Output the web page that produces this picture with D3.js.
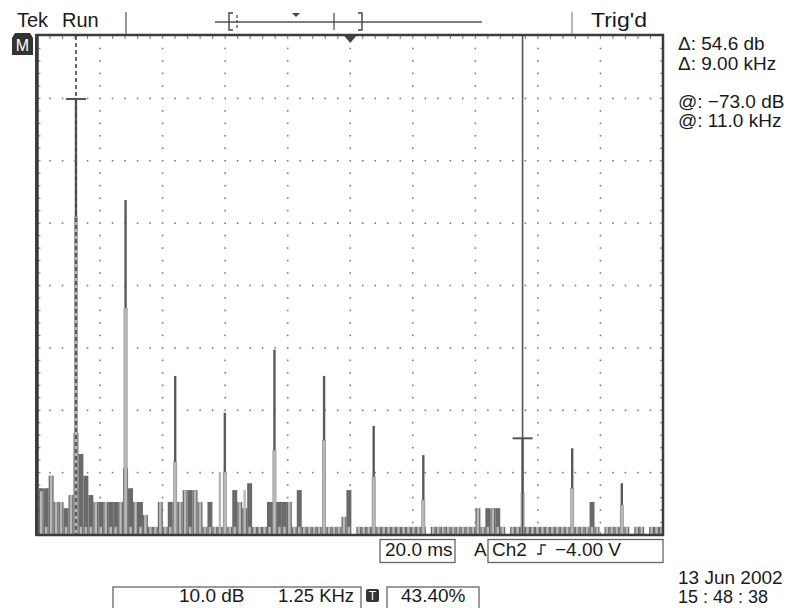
<!DOCTYPE html>
<html><head><meta charset="utf-8">
<script src="https://cdn.jsdelivr.net/npm/d3@7"></script>
<style>
html,body{margin:0;padding:0;background:#fff;}
svg{display:block;}
text{font-family:"Liberation Sans",Arial,Helvetica,sans-serif;fill:#1a1a1a;}
</style></head>
<body>
<script>
// ---------- DATA ----------
const freqDomain = [1.225, 13.83];
const levelDomain = [-88.5, -8.5];
const binStart = 1.3, binStep = 0.1;
const noiseMax = [
 -81.0,-81.0,-79.0,-83.2,-83.2,-84.2,-82.1,-72.1,-75.5,-79.0,
 -82.1,-83.2,-83.2,-83.2,-83.2,-83.2,-83.2,-77.8,-81.0,-83.2,
 -83.2,-85.3,-87.2,-87.2,-83.2,-87.2,-83.2,-83.2,-83.2,-81.3,
 -81.3,-81.3,-83.2,-87.2,-83.2,-87.2,-87.2,-87.2,-87.2,-81.3,
 -83.2,-84.2,-80.2,-87.2,-87.2,-87.2,-83.2,-83.2,-83.2,-83.2,
 -83.2,-87.2,-81.3,-87.2,-87.2,-87.2,-87.2,-87.2,-87.2,-87.2,
 -87.2,-85.6,-81.3,-90.0,-87.2,-87.2,-87.2,-87.2,-87.2,-87.2,
 -87.2,-87.2,-87.2,-87.2,-87.2,-87.2,-87.2,-87.2,-90.0,-87.2,
 -87.2,-87.2,-87.2,-87.2,-87.2,-87.2,-87.2,-87.2,-84.2,-87.2,
 -84.2,-84.2,-84.2,-87.2,-90.0,-87.2,-87.2,-87.2,-87.2,-87.2,
 -87.2,-87.2,-87.2,-87.2,-87.2,-87.2,-87.2,-87.2,-87.2,-87.2,
 -87.2,-83.2,-87.2,-90.0,-87.2,-87.2,-87.2,-87.2,-87.2,-90.0,
 -87.2,-87.2,-90.0,-87.2,-87.2,-87.2
];
const noiseAvg = [
 -81.5,-87.2,-79.0,-83.2,-83.2,-87.2,-82.1,-87.2,-87.2,-87.2,
 -87.2,-83.2,-87.2,-83.2,-87.2,-87.2,-83.2,-87.2,-87.2,-83.2,
 -87.2,-85.3,-87.2,-87.2,-83.2,-87.2,-87.2,-87.2,-83.2,-81.3,
 -87.2,-81.3,-83.2,-87.2,-87.2,-87.2,-78.4,-87.2,-87.2,-87.2,
 -83.2,-81.3,-87.2,-87.2,-87.2,-87.2,-87.2,-83.2,-87.2,-87.2,
 -83.2,-87.2,-87.2,-87.2,-87.2,-87.2,-87.2,-87.2,-87.2,-87.2,
 -87.2,-85.6,-87.2,-90.0,-87.2,-87.2,-87.2,-87.2,-87.2,-87.2,
 -87.2,-87.2,-87.2,-87.2,-87.2,-87.2,-87.2,-87.2,-90.0,-87.2,
 -87.2,-87.2,-87.2,-87.2,-87.2,-87.2,-87.2,-87.2,-84.2,-87.2,
 -87.2,-84.2,-87.2,-87.2,-90.0,-87.2,-87.2,-87.2,-87.2,-87.2,
 -87.2,-87.2,-87.2,-87.2,-87.2,-87.2,-87.2,-87.2,-87.2,-87.2,
 -87.2,-87.2,-87.2,-90.0,-87.2,-87.2,-87.2,-87.2,-87.2,-90.0,
 -87.2,-87.2,-90.0,-87.2,-87.2,-87.2
];
const peakFreq  = [2, 3, 4, 5, 6, 7, 8, 9, 11, 12, 13];
const peakMax   = [-18.6,-34.8,-63.0,-68.9,-58.8,-63.0,-71.0,-75.7,-73.0,-74.6,-80.2];
const peakAvg   = [-37.5,-52.1,-76.8,-78.4,-74.9,-73.3,-79.2,-82.9,-81.8,-81.0,-83.7];
const cursorFreq  = [2.0, 11.0];
const cursorLevel = [-18.6, -73.0];
const headerWords = ["Tek", "Run"], headerRight = "Trig'd";
const readouts = ["\u0394: 54.6 db", "\u0394: 9.00 kHz", "@: \u221273.0 dB", "@: 11.0 kHz"];
const timebase = "20.0 ms", trigSource = "Ch2", trigLevel = "\u22124.00 V";
const scaleDb = "10.0 dB", scaleHz = "1.25 KHz", trigPos = "43.40%";
const dateStr = "13 Jun 2002", timeStr = "15 : 48 : 38";

// ---------- LAYOUT ----------
const W = 787, H = 608;
const L = 37.5, R = 663, T = 36, B = 535;
const svg = d3.select("body").append("svg").attr("width", W).attr("height", H);
const x = d3.scaleLinear().domain(freqDomain).range([L, R]);
const y = d3.scaleLinear().domain(levelDomain).range([B, T]);
const divX = d3.scaleLinear().domain([0, 10]).range([L, R]);
const divY = d3.scaleLinear().domain([0, 8]).range([T, B]);

const DARK = "#6a6a6a", LIGHT = "#b9b9b9", FRAME = "#3c3c3c", DOT = "#7c7c7c";

const g = svg.append("g");
const dots = [];
for (let j = 1; j < 8; j++) for (let m = 1; m < 50; m++) dots.push([divX(m / 5), divY(j)]);
for (let k = 1; k < 10; k++) for (let m = 1; m < 40; m++) if (m % 5) dots.push([divX(k), divY(m / 5)]);
g.selectAll("rect.dot").data(dots).join("rect").attr("class", "dot")
  .attr("x", d => d[0] - 0.8).attr("y", d => d[1] - 0.8).attr("width", 1.6).attr("height", 1.6).attr("fill", DOT);

const ticks = [];
for (let m = 1; m < 50; m++) { ticks.push([divX(m/5), T, divX(m/5), T + 3]); ticks.push([divX(m/5), B, divX(m/5), B - 3]); }
for (let m = 1; m < 40; m++) { ticks.push([L, divY(m/5), L + 3, divY(m/5)]); ticks.push([R, divY(m/5), R - 3, divY(m/5)]); }
g.selectAll("line.tick").data(ticks).join("line").attr("class", "tick")
  .attr("x1", d => d[0]).attr("y1", d => d[1]).attr("x2", d => d[2]).attr("y2", d => d[3])
  .attr("stroke", "#888").attr("stroke-width", 1.2);

const bins = noiseMax.map((v, i) => ({f: binStart + i * binStep, max: v, avg: noiseAvg[i]}));
const bw = x(binStep) - x(0);
g.selectAll("rect.nmax").data(bins.filter(d => d.max > levelDomain[0])).join("rect").attr("class", "nmax")
  .attr("x", d => x(d.f) - bw / 2).attr("width", bw)
  .attr("y", d => y(d.max)).attr("height", d => B - y(d.max)).attr("fill", DARK);
g.selectAll("rect.navg").data(bins.filter(d => d.avg > levelDomain[0])).join("rect").attr("class", "navg")
  .attr("x", d => x(d.f) - bw / 4).attr("width", bw / 2)
  .attr("y", d => y(d.avg)).attr("height", d => B - y(d.avg)).attr("fill", LIGHT);

const peaks = peakFreq.map((f, i) => ({f, max: peakMax[i], avg: peakAvg[i]}));
g.selectAll("rect.pmax").data(peaks).join("rect").attr("class", "pmax")
  .attr("x", d => x(d.f) - 1.2).attr("width", 2.4)
  .attr("y", d => y(d.max)).attr("height", d => B - y(d.max)).attr("fill", "#5a5a5a");
g.selectAll("rect.pavg").data(peaks).join("rect").attr("class", "pavg")
  .attr("x", d => x(d.f) - 1.6).attr("width", 3.2)
  .attr("y", d => y(d.avg)).attr("height", d => B - y(d.avg)).attr("fill", LIGHT)
  .attr("stroke", "#8a8a8a").attr("stroke-width", 0.6);

svg.append("line").attr("x1", x(cursorFreq[0])).attr("x2", x(cursorFreq[0])).attr("y1", T).attr("y2", B)
  .attr("stroke", "#444").attr("stroke-width", 1.6).attr("stroke-dasharray", "4,3");
svg.append("line").attr("x1", x(cursorFreq[1])).attr("x2", x(cursorFreq[1])).attr("y1", T).attr("y2", B)
  .attr("stroke", "#555").attr("stroke-width", 1.6);
cursorFreq.forEach((f, i) => {
  svg.append("line").attr("x1", x(f) - 10).attr("x2", x(f) + 10).attr("y1", y(cursorLevel[i])).attr("y2", y(cursorLevel[i]))
    .attr("stroke", "#555").attr("stroke-width", 2);
});

svg.append("rect").attr("x", L).attr("y", T - 1).attr("width", R - L).attr("height", B - T + 1)
  .attr("fill", "none").attr("stroke", FRAME).attr("stroke-width", 2.5);
svg.append("line").attr("x1", L - 1).attr("x2", L - 1).attr("y1", T - 2).attr("y2", B + 1).attr("stroke", FRAME).attr("stroke-width", 3);

svg.append("path").attr("d", `M${divX(5) - 6},${T} L${divX(5) + 6},${T} L${divX(5)},${T + 7} Z`).attr("fill", "#444");

svg.append("path").attr("d", "M12,38 L15,33 L30,33 L33,38 L33,55 L12,55 Z").attr("fill", "#333");
svg.append("text").attr("x", 22.5).attr("y", 51).attr("text-anchor", "middle").attr("font-size", 16).style("fill", "#fff").text("M");

svg.append("text").attr("x", 17).attr("y", 27).attr("font-size", 20).text(headerWords[0]);
svg.append("text").attr("x", 62).attr("y", 27).attr("font-size", 20).text(headerWords[1]);
svg.append("text").attr("x", 591).attr("y", 27).attr("font-size", 20).attr("textLength", 56).attr("lengthAdjust", "spacingAndGlyphs").text(headerRight);
svg.append("line").attr("x1", 126).attr("x2", 126).attr("y1", 12).attr("y2", 34).attr("stroke", "#555").attr("stroke-width", 1.2);
svg.append("line").attr("x1", 572).attr("x2", 572).attr("y1", 12).attr("y2", 34).attr("stroke", "#888").attr("stroke-width", 1.2);
svg.append("line").attr("x1", 215).attr("x2", 482).attr("y1", 22).attr("y2", 22).attr("stroke", "#555").attr("stroke-width", 1.4);
svg.append("path").attr("d", "M233,13 L229,13 L229,30 L233,30").attr("fill", "none").attr("stroke", "#444").attr("stroke-width", 1.4);
svg.append("path").attr("d", "M358,13 L362,13 L362,30 L358,30").attr("fill", "none").attr("stroke", "#444").attr("stroke-width", 1.4);
svg.append("line").attr("x1", 237).attr("x2", 237).attr("y1", 15).attr("y2", 30).attr("stroke", "#444").attr("stroke-width", 1.2).attr("stroke-dasharray", "3,2");
svg.append("line").attr("x1", 334).attr("x2", 334).attr("y1", 13).attr("y2", 30).attr("stroke", "#444").attr("stroke-width", 1.2);
svg.append("path").attr("d", "M292,13 L300,13 L296,17 Z").attr("fill", "#444");

const rb = [50, 70, 108, 127];
readouts.forEach((t, i) => svg.append("text").attr("x", 678).attr("y", rb[i]).attr("font-size", 19).text(t));

const box = (x0, y0, w, h) => svg.append("rect").attr("x", x0).attr("y", y0).attr("width", w).attr("height", h)
  .attr("fill", "none").attr("stroke", "#666").attr("stroke-width", 1.3);
box(380, 539.5, 75, 23);
box(488, 539.5, 175, 23);
svg.append("text").attr("x", 385).attr("y", 556).attr("font-size", 19).text(timebase);
svg.append("text").attr("x", 474).attr("y", 556).attr("font-size", 19).text("A");
svg.append("text").attr("x", 492).attr("y", 556).attr("font-size", 19).text(trigSource);
svg.append("path").attr("d", "M537,554 L541,554 L541,545 L546,545").attr("fill", "none").attr("stroke", "#222").attr("stroke-width", 1.3);
svg.append("text").attr("x", 555).attr("y", 556).attr("font-size", 19).text(trigLevel);

box(113, 587, 248, 24);
box(387, 587, 92, 24);
svg.append("text").attr("x", 179).attr("y", 602).attr("font-size", 19).text(scaleDb);
svg.append("text").attr("x", 278).attr("y", 602).attr("font-size", 18.5).text(scaleHz);
svg.append("rect").attr("x", 366).attr("y", 589).attr("width", 13).attr("height", 13).attr("rx", 2).attr("fill", "#333");
svg.append("text").attr("x", 372.5).attr("y", 600).attr("text-anchor", "middle").attr("font-size", 12).style("fill", "#fff").text("T");
svg.append("text").attr("x", 401).attr("y", 602).attr("font-size", 19).text(trigPos);

svg.append("text").attr("x", 678).attr("y", 584).attr("font-size", 19).text(dateStr);
svg.append("text").attr("x", 678).attr("y", 603).attr("font-size", 18).text(timeStr);
</script>
</body></html>
